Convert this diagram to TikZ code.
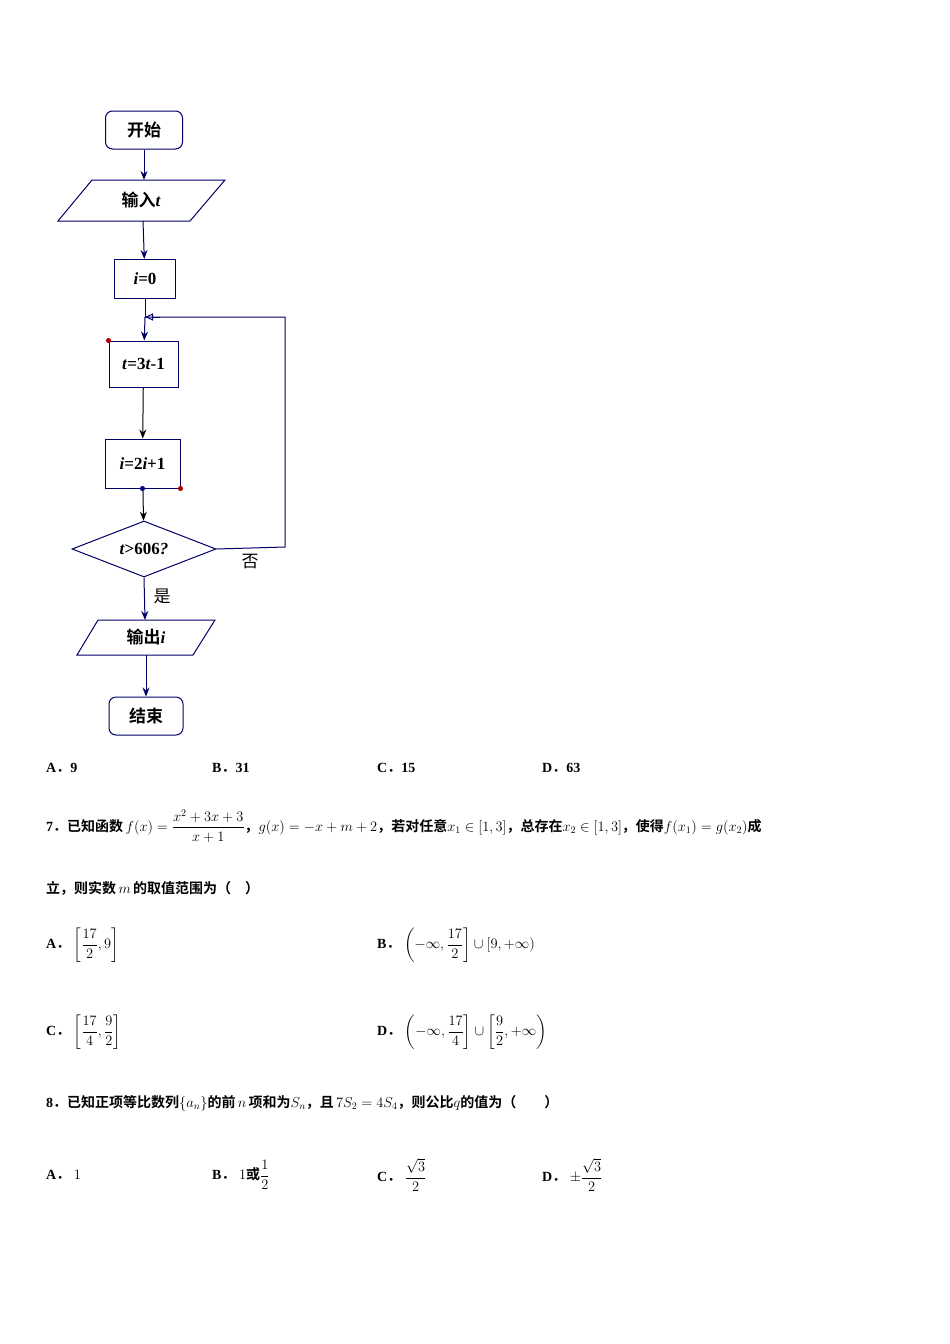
\documentclass[tikz,border=0pt]{standalone}
\usepackage{amsmath}
\usepackage{fontspec}
\setmainfont{Liberation Serif}
\newfontfamily\cjk{Noto Sans CJK SC}[BoldFont={* Bold}]
\usetikzlibrary{arrows.meta,shapes.geometric}
\newcommand{\dt}{{\cjk ．}}
\newcommand{\vi}[1]{{\rmfamily\bfseries\itshape #1}}
\begin{document}
\begin{tikzpicture}[x=1pt,y=-1pt,
  fc/.style={draw=blue!40!black,line width=1pt},
  ar/.style={-{Stealth[length=9pt,width=7pt]},line width=1pt,draw=blue!40!black},
  tx/.style={anchor=west,inner sep=0pt,font=\bfseries\fontsize{14}{16}\selectfont},
  ff/.style={font=\bfseries\fontsize{17}{19}\selectfont},
  fcj/.style={font=\cjk\bfseries\fontsize{17}{19}\selectfont},
  dot/.style={circle,fill=#1,inner sep=1.8pt}]
\useasboundingbox (0,0) rectangle (950,1344);
% flowchart
\node[fc,fcj,rounded corners=7pt,minimum width=77,minimum height=38] (start) at (144,130) {开始};
\draw[fc] (92,180) -- (225,180) -- (190,221) -- (58,221) -- cycle;
\node[fcj] (in) at (141,200) {输入\vi{t}};
\node[fc,ff,minimum width=61,minimum height=39] (i0) at (145,279) {\textit{i}=0};
\coordinate (join) at (145,317);
\node[fc,ff,minimum width=69,minimum height=46] (t3) at (143.5,364) {\textit{t}=3\textit{t}-1};
\node[fc,ff,minimum width=75,minimum height=49] (i2) at (142.5,463.5) {\textit{i}=2\textit{i}+1};
\node[fc,ff,diamond,aspect=2.6,minimum width=144,minimum height=56,inner sep=0pt] (d) at (144,549) {\textit{t}>606\textit{?}};
\draw[fc] (98,620) -- (215,620) -- (193,655) -- (77,655) -- cycle;
\node[fcj] (out) at (146,637) {输出\vi{i}};
\node[fc,fcj,rounded corners=7pt,minimum width=74,minimum height=38] (end) at (146,716) {结束};
\draw[ar] (start) -- (144,180);
\draw[ar] (143,221) -- (i0);
\draw[fc] (i0) -- (join);
\draw[ar] (join) -- (t3);
\draw[ar,draw=black] (t3) -- (i2);
\draw[ar,draw=black] (i2) -- (d);
\draw[fc] (d.east) -- (285,547) -- (285,317) -- (join);
\draw[-{Triangle[open,length=8pt,width=7pt]},draw=blue!40!black,line width=1pt] (160,317) -- (join);
\draw[ar] (d.south) -- (145,620);
\draw[ar] (146,655) -- (end);
\node[dot=red!70!black] at (t3.north west) {};
\node[dot=blue!50!black] at (i2.south) {};
\node[dot=red!70!black] at (i2.south east) {};
\node[font=\cjk\fontsize{17}{19}\selectfont] (no) at (250,562) {否};
\node[font=\cjk\fontsize{17}{19}\selectfont] (yes) at (162,596) {是};
% options Q6
\node[tx] (a6) at (46,768) {A\dt 9};
\node[tx] (b6) at (212,768) {B\dt 31};
\node[tx] (c6) at (377,768) {C\dt 15};
\node[tx] (d6) at (542,768) {D\dt 63};
% Q7
\node[tx] (q7) at (46,826) {7\dt{\cjk 已知函数}\,$f(x)=\dfrac{x^2+3x+3}{x+1}${\cjk ，}$g(x)=-x+m+2${\cjk ，若对任意}$x_1\in[1,3]${\cjk ，总存在}$x_2\in[1,3]${\cjk ，使得}$f(x_1)=g(x_2)${\cjk 成}};
\node[tx] (q7b) at (46,888) {\cjk 立，则实数\,$m$\,的取值范围为（\quad ）};
\node[tx] (a7) at (46,945) {A\dt\ $\left[\dfrac{17}{2},9\right]$};
\node[tx] (b7) at (377,945) {B\dt\ $\left(-\infty,\dfrac{17}{2}\right]\cup[9,+\infty)$};
\node[tx] (c7) at (46,1032) {C\dt\ $\left[\dfrac{17}{4},\dfrac{9}{2}\right]$};
\node[tx] (d7) at (377,1032) {D\dt\ $\left(-\infty,\dfrac{17}{4}\right]\cup\left[\dfrac{9}{2},+\infty\right)$};
% Q8
\node[tx] (q8) at (46,1103) {8\dt{\cjk 已知正项等比数列}$\{a_n\}${\cjk 的前}\,$n$\,{\cjk 项和为}$S_n${\cjk ，且}\,$7S_2=4S_4${\cjk ，则公比}$q${\cjk 的值为（\qquad ）}};
\node[tx] (a8) at (46,1175) {A\dt\ $1$};
\node[tx] (b8) at (212,1175) {B\dt\ $1${\cjk 或}$\dfrac{1}{2}$};
\node[tx] (c8) at (377,1175) {C\dt\ $\dfrac{\sqrt3}{2}$};
\node[tx] (d8) at (542,1175) {D\dt\ $\pm\dfrac{\sqrt3}{2}$};
\end{tikzpicture}
\end{document}
